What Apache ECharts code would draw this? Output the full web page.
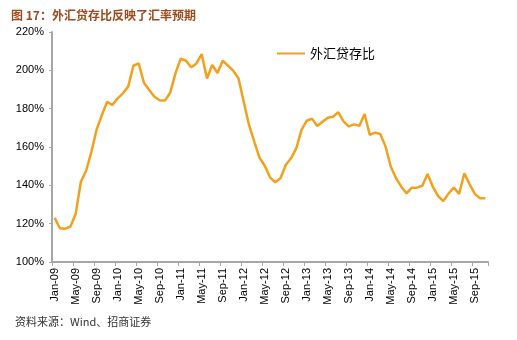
<!DOCTYPE html>
<html>
<head>
<meta charset="utf-8">
<script src="https://cdn.jsdelivr.net/npm/echarts@6/dist/echarts.min.js"></script>
<style>
  html, body { margin: 0; padding: 0; background: #fff; }
  #chart { width: 517px; height: 340px; }
</style>
</head>
<body>
<div id="chart"></div>
<script>
// Monthly ratio of FX loans to FX deposits (%), Jan-09 .. Nov-15
const monthNames = ['Jan','Feb','Mar','Apr','May','Jun','Jul','Aug','Sep','Oct','Nov','Dec'];
const startYear = 2009;
const ratio = [
  123.1, 117.6, 117.4, 118.4, 125.0, 141.9, 147.6, 157.5, 169.2, 176.7, 183.6, 181.9,
  185.4, 188.0, 191.5, 202.4, 203.6, 193.5, 189.7, 186.2, 184.4, 184.2, 188.3, 198.4,
  206.1, 205.0, 201.6, 203.6, 208.5, 195.7, 202.8, 198.6, 205.0, 202.4, 199.8, 195.8,
  183.6, 171.5, 162.8, 154.4, 150.2, 144.2, 141.6, 143.7, 150.6, 154.1, 159.3, 168.9,
  173.7, 174.8, 171.0, 173.2, 175.3, 175.8, 178.1, 173.4, 170.8, 171.8, 171.0, 177.2,
  166.3, 167.5, 166.8, 160.2, 149.7, 143.7, 139.3, 135.8, 138.8, 138.8, 139.8, 145.9,
  139.3, 134.4, 131.8, 135.8, 138.8, 135.5, 146.3, 140.5, 135.5, 133.2, 133.2
];
const categories = ratio.map((_, i) =>
  monthNames[i % 12] + '-' + String((startYear + Math.floor(i / 12)) % 100).padStart(2, '0'));
const yTicks = { min: 100, max: 220, step: 20 };
const seriesName = '外汇贷存比';
const titleText = '图 17：外汇贷存比反映了汇率预期';
const sourceText = '资料来源：Wind、招商证券';

const chart = echarts.init(document.getElementById('chart'), null, { renderer: 'canvas' });
chart.setOption({
  backgroundColor: '#ffffff',
  animation: false,
  title: [
    {
      text: titleText, left: 6, top: 4,
      textStyle: { fontFamily: 'Noto Sans CJK SC', fontSize: 12, fontWeight: 'bold', color: '#9E4A1C' }
    },
    {
      text: sourceText, left: 10, top: 311,
      textStyle: { fontFamily: 'Noto Sans CJK SC', fontSize: 11, fontWeight: 'normal', color: '#333' }
    }
  ],
  legend: {
    data: [seriesName], left: 272, top: 42,
    itemWidth: 28, itemHeight: 12, itemGap: 2,
    icon: 'path://M0,5 L28,5 L28,7 L0,7 Z',
    textStyle: { fontFamily: 'Noto Sans CJK SC', fontSize: 13, color: '#000' }
  },
  grid: { left: 52, right: 29, top: 32, bottom: 78, containLabel: false },
  xAxis: {
    type: 'category', data: categories, boundaryGap: true,
    axisLine: { lineStyle: { color: '#A6A6A6', width: 2 } },
    axisTick: { show: true, interval: 3, length: 4, lineStyle: { color: '#A6A6A6', width: 1 } },
    axisLabel: {
      interval: 3, rotate: 90, margin: 6,
      fontFamily: 'Liberation Sans', fontSize: 11, color: '#000'
    },
    splitLine: { show: false }
  },
  yAxis: {
    type: 'value', min: yTicks.min, max: yTicks.max, interval: yTicks.step,
    axisLine: { show: true, lineStyle: { color: '#A6A6A6', width: 2 } },
    axisTick: { show: true, length: 3, lineStyle: { color: '#A6A6A6' } },
    axisLabel: { formatter: '{value}%', margin: 8, fontFamily: 'Liberation Sans', fontSize: 11, color: '#000' },
    splitLine: { show: false }
  },
  series: [{
    name: seriesName, type: 'line', data: ratio,
    showSymbol: false, symbol: 'none',
    lineStyle: { color: '#F2A11F', width: 2.5 },
    itemStyle: { color: '#F2A11F' }
  }]
});
</script>
</body>
</html>
